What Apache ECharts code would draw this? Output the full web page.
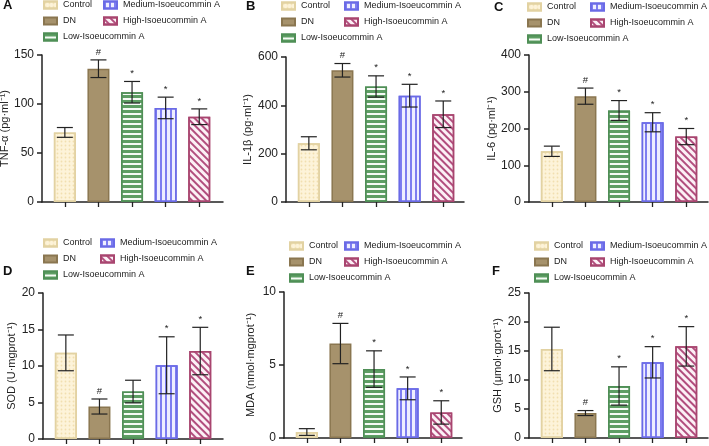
<!DOCTYPE html>
<html><head><meta charset="utf-8">
<script src="https://cdn.jsdelivr.net/npm/echarts@6/dist/echarts.min.js"></script>
<style>html,body{margin:0;padding:0;background:#fff}#c{width:709px;height:446px}</style>
</head><body><div id="c"></div>
<script>
// ---------- data ----------
const groups = ['Control', 'DN', 'Low-Isoeucommin A', 'Medium-Isoeucommin A', 'High-Isoeucommin A'];
const groupPos = [0, 1, 2, 3, 4];

const tnfMean = [71, 136, 112, 96, 87];
const tnfErr  = [5, 9, 11, 11, 8];
const il1bMean = [243, 545, 478, 440, 363];
const il1bErr  = [27, 28, 44, 47, 55];
const il6Mean = [138, 288, 249, 217, 178];
const il6Err  = [14, 22, 27, 26, 22];
const sodMean = [11.8, 4.45, 6.5, 10.1, 12.05];
const sodErr  = [2.45, 1.03, 1.55, 3.9, 3.25];
const mdaMean = [0.41, 6.47, 4.72, 3.4, 1.75];
const mdaErr  = [0.23, 1.38, 1.25, 0.78, 0.8];
const gshMean = [15.35, 4.3, 8.97, 13.05, 15.8];
const gshErr  = [3.75, 0.43, 3.3, 2.7, 3.4];

const marksStd = ['', '#', '*', '*', '*'];
const marksSod = ['', '#', '', '*', '*'];

const yTicksA = [0, 50, 100, 150];
const yTicksB = [0, 200, 400, 600];
const yTicksC = [0, 100, 200, 300, 400];
const yTicksD = [0, 5, 10, 15, 20];
const yTicksE = [0, 5, 10];
const yTicksF = [0, 5, 10, 15, 20, 25];

const panelLetters = ['A', 'B', 'C', 'D', 'E', 'F'];
const yNames = ['TNF-α (pg·ml⁻¹)', 'IL-1β (pg·ml⁻¹)', 'IL-6 (pg·ml⁻¹)',
                'SOD (U·mgprot⁻¹)', 'MDA (nmol·mgprot⁻¹)', 'GSH (μmol·gprot⁻¹)'];
const means = [tnfMean, il1bMean, il6Mean, sodMean, mdaMean, gshMean];
const errs  = [tnfErr, il1bErr, il6Err, sodErr, mdaErr, gshErr];
const marks = [marksStd, marksStd, marksStd, marksSod, marksStd, marksStd];
const yTicks = [yTicksA, yTicksB, yTicksC, yTicksD, yTicksE, yTicksF];

// ---------- layout / style ----------
const FONT = "'Liberation Sans', Arial, Helvetica, sans-serif";
const INK = '#222';
const layout = [
  {left: 42,  top: 55,  h: 147, w: 181, gap: 29, lx: 43,  lx2: 103, ly: -1,  tx: 3,   ty: -1},
  {left: 286, top: 57,  h: 145, w: 178, gap: 33, lx: 281, lx2: 344, ly: 0,   tx: 246, ty: 0},
  {left: 529, top: 55,  h: 147, w: 179, gap: 31, lx: 527, lx2: 590, ly: 1,   tx: 494, ty: 1},
  {left: 43,  top: 293, h: 146, w: 180, gap: 26, lx: 43,  lx2: 100, ly: 237, tx: 3,   ty: 265},
  {left: 284, top: 292, h: 146, w: 178, gap: 28, lx: 289, lx2: 344, ly: 240, tx: 246, ty: 265},
  {left: 529, top: 293, h: 145, w: 179, gap: 26, lx: 534, lx2: 590, ly: 240, tx: 492, ty: 265}
];
const styles = [
  {color: '#fdf3d9', border: '#e2d2a2',
   decal: {symbol: 'circle', symbolSize: 0.6, dashArrayX: [3, 1], dashArrayY: [3, 1], color: 'rgba(232,205,140,0.55)'}},
  {color: '#a6926c', border: '#8a7650', decal: null},
  {color: '#f6fbf6', border: '#4f8f56',
   decal: {symbol: 'rect', symbolSize: 1, dashArrayX: [1, 0], dashArrayY: [3, 2], color: '#5e9e64'}},
  {color: '#eeeeff', border: '#6a6ae6',
   decal: {symbol: 'rect', symbolSize: 1, dashArrayX: [2, 3], dashArrayY: [1, 0], color: '#7d7df0'}},
  {color: '#fcf0f5', border: '#a8456f',
   decal: {symbol: 'rect', symbolSize: 1, dashArrayX: [1, 0], dashArrayY: [1.5, 2.5], rotation: Math.PI / 4, color: '#b24e7e'}}
];
const X_MIN = -0.68;
const X_UNIT = 33.6;

const option = {
  animation: false,
  backgroundColor: '#fff',
  title: [], grid: [], xAxis: [], yAxis: [], legend: [], series: []
};

layout.forEach((L, p) => {
  option.title.push({
    text: panelLetters[p], left: L.tx, top: L.ty, padding: 0,
    textStyle: {fontFamily: FONT, fontSize: 13, fontWeight: 'bold', color: '#111'}
  });
  option.grid.push({left: L.left, top: L.top, width: L.w, height: L.h, containLabel: false, outerBoundsMode: 'none'});
  const ticks = yTicks[p];
  option.xAxis.push({
    type: 'value', gridIndex: p, min: X_MIN, max: X_MIN + L.w / X_UNIT,
    axisLine: {show: true, onZero: false, lineStyle: {color: INK, width: 1.5}},
    axisTick: {show: true, customValues: groupPos, length: 5, lineStyle: {color: INK, width: 1.3}},
    axisLabel: {show: false}, splitLine: {show: false}
  });
  option.yAxis.push({
    type: 'value', gridIndex: p, min: ticks[0], max: ticks[ticks.length - 1],
    interval: ticks[1] - ticks[0],
    name: yNames[p], nameLocation: 'middle', nameGap: L.gap,
    nameTextStyle: {fontFamily: FONT, fontSize: 11, color: INK},
    axisLine: {show: true, onZero: false, lineStyle: {color: INK, width: 1.5}},
    axisTick: {show: true, length: 5, lineStyle: {color: INK, width: 1.5}},
    axisLabel: {fontFamily: FONT, fontSize: 12, color: INK, margin: 8},
    splitLine: {show: false}
  });
  const legCommon = {
    orient: 'vertical', icon: 'rect', itemWidth: 13, itemHeight: 7, itemGap: 4, padding: 0,
    selectedMode: false,
    textStyle: {fontFamily: FONT, fontSize: 9, color: INK, lineHeight: 12, padding: [0, 0, 0, 1]}
  };
  option.legend.push(Object.assign({left: L.lx, top: L.ly, data: groups.slice(0, 3)}, legCommon));
  option.legend.push(Object.assign({left: L.lx2, top: L.ly, data: groups.slice(3)}, legCommon));

  groups.forEach((g, i) => {
    const s = styles[i];
    const itemStyle = {color: s.color, borderColor: s.border, borderWidth: 1.5};
    if (s.decal) itemStyle.decal = s.decal;
    option.series.push({
      type: 'bar', name: g, xAxisIndex: p, yAxisIndex: p,
      barWidth: 22, barGap: '-100%',
      itemStyle: itemStyle,
      data: [[groupPos[i], means[p][i]]],
      z: 2
    });
  });

  const mk = marks[p];
  option.series.push({
    type: 'custom', xAxisIndex: p, yAxisIndex: p, z: 5, silent: true,
    encode: {x: 0, y: 1},
    data: groupPos.map((x, i) => [x, means[p][i], errs[p][i]]),
    renderItem: (params, api) => {
      const x = api.value(0), m = api.value(1), e = api.value(2);
      const t = api.coord([x, m + e]);
      const b = api.coord([x, m - e]);
      const cap = 8;
      const st = {stroke: INK, lineWidth: 1.2};
      const children = [
        {type: 'line', shape: {x1: t[0], y1: t[1], x2: b[0], y2: b[1]}, style: st},
        {type: 'line', shape: {x1: t[0] - cap, y1: t[1], x2: t[0] + cap, y2: t[1]}, style: st},
        {type: 'line', shape: {x1: b[0] - cap, y1: b[1], x2: b[0] + cap, y2: b[1]}, style: st}
      ];
      const label = mk[params.dataIndex];
      if (label) {
        children.push({
          type: 'text', x: t[0], y: t[1] - 3,
          style: {text: label, fill: INK, fontFamily: FONT, fontSize: 9.5,
                  align: 'center', verticalAlign: 'bottom'}
        });
      }
      return {type: 'group', children: children};
    }
  });
});

const chart = echarts.init(document.getElementById('c'), null, {renderer: 'canvas'});
chart.setOption(option);
</script>
</body></html>
